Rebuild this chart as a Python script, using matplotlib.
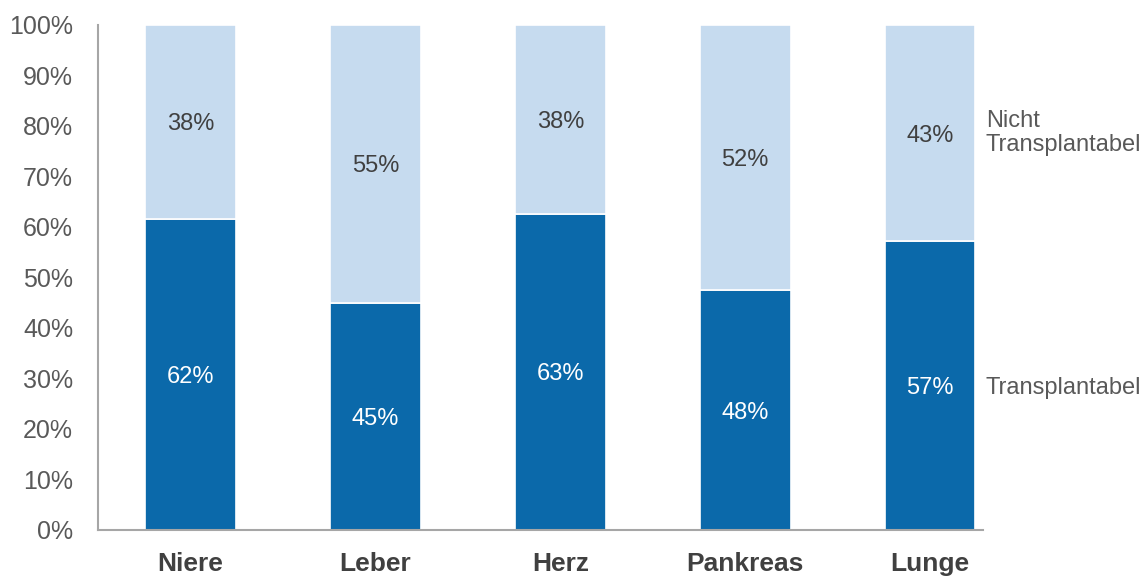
import matplotlib
matplotlib.use("Agg")
from matplotlib import pyplot as plt
from matplotlib.transforms import blended_transform_factory

plt.rcParams["font.family"] = ["Liberation Sans", "DejaVu Sans"]

categories = ["Niere", "Leber", "Herz", "Pankreas", "Lunge"]
transplantabel = [61.6, 45.0, 62.6, 47.5, 57.2]
nicht_transplantabel = [100 - v for v in transplantabel]
labels_bottom = ["62%", "45%", "63%", "48%", "57%"]
labels_top = ["38%", "55%", "38%", "52%", "43%"]
series_names = ["Transplantabel", "Nicht\nTransplantabel"]

dark = "#0B69AA"
light = "#C6DBEF"
grey = "#595959"

fig = plt.figure(figsize=(11.48, 5.76), dpi=100)
ax = fig.add_axes([0.0854, 0.0799, 0.7709, 0.8767])

x = list(range(len(categories)))
ax.bar(x, transplantabel, width=0.49, color=dark, edgecolor="white", linewidth=1.2)
ax.bar(x, nicht_transplantabel, width=0.49, bottom=transplantabel,
       color=light, edgecolor="white", linewidth=1.2)

for i in x:
    b = transplantabel[i]
    t = nicht_transplantabel[i]
    ax.text(i, b / 2, labels_bottom[i], ha="center", va="center_baseline",
            color="white", fontsize=17)
    ax.text(i, b + t / 2, labels_top[i], ha="center", va="center_baseline",
            color="#404040", fontsize=17)

# series names beside the last bar
trans = blended_transform_factory(ax.transAxes, ax.transData)
last = len(categories) - 1
ax.text(1.003, transplantabel[last] / 2, series_names[0], transform=trans,
        ha="left", va="center_baseline", color=grey, fontsize=17)
ax.text(1.003, transplantabel[last] + nicht_transplantabel[last] / 2,
        series_names[1], transform=trans, ha="left", va="center",
        color=grey, fontsize=17, linespacing=1.15)

ax.set_xlim(-0.5, 4.286)
ax.set_ylim(0, 100)
ax.set_yticks(range(0, 101, 10))
ax.set_yticklabels([f"{v}%" for v in range(0, 101, 10)])
ax.set_xticks(x)
ax.set_xticklabels(categories, fontweight="bold", color="#404040")
ax.tick_params(axis="both", length=0, labelsize=18)
ax.tick_params(axis="y", pad=18, labelcolor=grey)
ax.tick_params(axis="x", pad=16, labelsize=19)

for side in ["top", "right"]:
    ax.spines[side].set_visible(False)
for side in ["left", "bottom"]:
    ax.spines[side].set_color("#A6A6A6")
    ax.spines[side].set_linewidth(1.5)

fig.savefig("out.png", dpi=100)
